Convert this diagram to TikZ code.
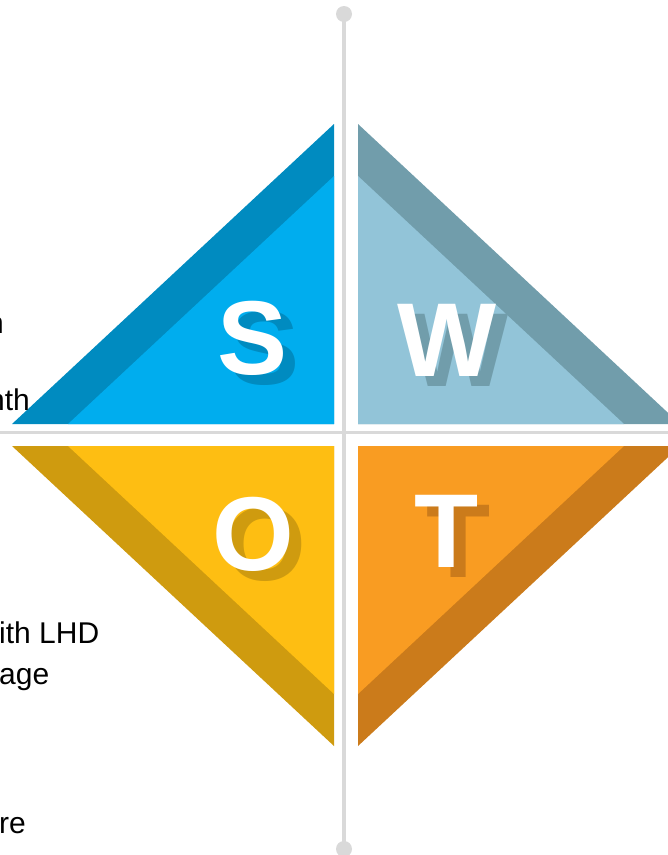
\documentclass[tikz,border=0pt]{standalone}
\usepackage{fontspec}
\setmainfont{Liberation Sans}

\definecolor{sLight}{HTML}{00ADEE}
\definecolor{sDark}{HTML}{008BC0}
\definecolor{wLight}{HTML}{92C4D8}
\definecolor{wDark}{HTML}{719DAB}
\definecolor{oLight}{HTML}{FEBE12}
\definecolor{oDark}{HTML}{CF9B0F}
\definecolor{tLight}{HTML}{F99C22}
\definecolor{tDark}{HTML}{CB7B1B}
\definecolor{axisGray}{HTML}{D9D9D9}

\tikzset{
  letter/.style={inner sep=0pt, font=\fontsize{105}{105}\selectfont\bfseries},
  sidetext/.style={inner sep=0pt, anchor=base east, font=\fontsize{30}{34}\selectfont},
  axis/.style={draw=axisGray, line width=4pt}
}

\begin{document}
\begin{tikzpicture}[x=1pt,y=-1pt]
\useasboundingbox (0,0) rectangle (668,855);
\clip (0,0) rectangle (668,855);

% axes
\coordinate (top) at (344,14);
\coordinate (bottom) at (344,849);
\draw[axis] (top) -- (bottom);
\draw[axis, line width=3pt] (0,432) -- (668,432);
\fill[axisGray] (top) circle (8);
\fill[axisGray] (bottom) circle (8);

% quadrants
\fill[sDark] (334,124) -- (12,424) -- (334,424) -- cycle;
\fill[sLight] (334,176) -- (68,424) -- (334,424) -- cycle;
\fill[wDark] (358,124) -- (680,424) -- (358,424) -- cycle;
\fill[wLight] (358,176) -- (624,424) -- (358,424) -- cycle;
\fill[oDark] (12,446) -- (334,446) -- (334,746) -- cycle;
\fill[oLight] (68,446) -- (334,446) -- (334,694) -- cycle;
\fill[tDark] (358,446) -- (680,446) -- (358,746) -- cycle;
\fill[tLight] (358,446) -- (624,446) -- (358,694) -- cycle;

% letters with shadows
\node[letter, text=sDark] (sShadow) at (265,348) {S};
\node[letter, text=white] (s) at (253,338) {S};
\node[letter, text=wDark] (wShadow) at (459,350) {W};
\node[letter, text=white] (w) at (447,340) {W};
\node[letter, text=oDark] (oShadow) at (265,544) {O};
\node[letter, text=white] (o) at (253,534) {O};
\node[letter, text=tDark] (tShadow) at (459,541) {T};
\node[letter, text=white] (t) at (447,531) {T};

% cut-off side texts
\node[sidetext] (strA) at (4,333) {h};
\node[sidetext] (strB) at (30,410) {nth};
\node[sidetext, anchor=base west] (oppA) at (-1,643) {ith LHD};
\node[sidetext, anchor=base west] (oppB) at (-1,684) {age};
\node[sidetext] (oppC) at (26,833) {re};
\end{tikzpicture}
\end{document}
